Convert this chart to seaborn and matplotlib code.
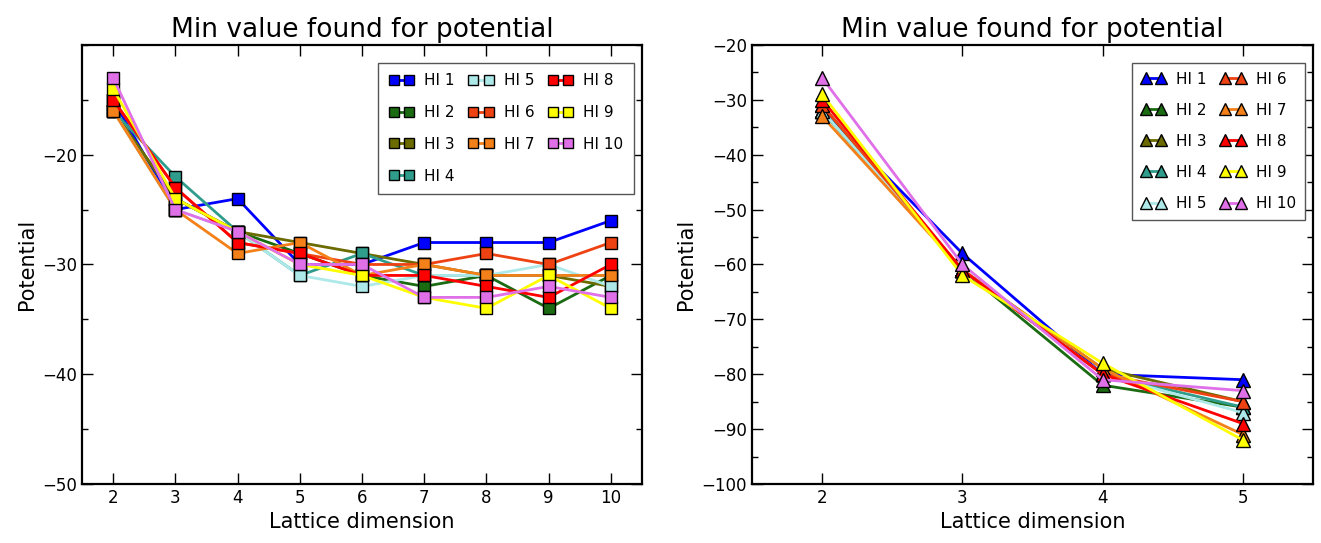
import pandas as pd
import matplotlib
matplotlib.use('Agg')
import matplotlib.pyplot as plt
import seaborn as sns
from matplotlib.ticker import MultipleLocator

# series names and colours
labels = ['HI 1', 'HI 2', 'HI 3', 'HI 4', 'HI 5', 'HI 6', 'HI 7', 'HI 8', 'HI 9', 'HI 10']
colors = ['#0000ff', '#1a6b12', '#6b6b00', '#2f9c8c', '#aee9e9',
          '#ee4212', '#f38018', '#ff0000', '#ffff00', '#e070e8']

# left panel: square markers, dims 2..10
dims_left = [2, 3, 4, 5, 6, 7, 8, 9, 10]
hi1_l = [-15, -25, -24, -30, -30, -28, -28, -28, -26]
hi2_l = [-16, -24, -27, -29, -31, -32, -31, -34, -31]
hi3_l = [-16, -24, -27, -28, -29, -30, -31, -31, -32]
hi4_l = [-16, -22, -27, -31, -29, -31, -31, -31, -31]
hi5_l = [-16, -25, -27, -31, -32, -31, -31, -30, -32]
hi6_l = [-15, -23, -28, -29, -30, -30, -29, -30, -28]
hi7_l = [-16, -25, -29, -28, -31, -30, -31, -31, -31]
hi8_l = [-15, -23, -28, -29, -31, -31, -32, -33, -30]
hi9_l = [-14, -24, -27, -30, -31, -33, -34, -31, -34]
hi10_l = [-13, -25, -27, -30, -30, -33, -33, -32, -33]

# right panel: triangle markers, dims 2..5
dims_right = [2, 3, 4, 5]
hi1_r = [-32, -58, -80, -81]
hi2_r = [-32, -61, -82, -86]
hi3_r = [-31, -61, -79, -85]
hi4_r = [-32, -61, -80, -86]
hi5_r = [-32, -61, -80, -87]
hi6_r = [-31, -61, -80, -85]
hi7_r = [-33, -61, -79, -91]
hi8_r = [-30, -61, -80, -89]
hi9_r = [-29, -62, -78, -92]
hi10_r = [-26, -60, -81, -83]

left_vals = [hi1_l, hi2_l, hi3_l, hi4_l, hi5_l, hi6_l, hi7_l, hi8_l, hi9_l, hi10_l]
right_vals = [hi1_r, hi2_r, hi3_r, hi4_r, hi5_r, hi6_r, hi7_r, hi8_r, hi9_r, hi10_r]


def to_long(dims, vals):
    rows = []
    for lab, v in zip(labels, vals):
        for d, p in zip(dims, v):
            rows.append({'dim': d, 'pot': p, 'HI': lab})
    return pd.DataFrame(rows)


df_left = to_long(dims_left, left_vals)
df_right = to_long(dims_right, right_vals)

sns.set_style('ticks', {'xtick.direction': 'in', 'ytick.direction': 'in',
                        'axes.edgecolor': 'black', 'text.color': 'black',
                        'axes.labelcolor': 'black', 'xtick.color': 'black',
                        'ytick.color': 'black'})
plt.rcParams['font.family'] = ['DejaVu Sans']

fig = plt.figure(figsize=(13.21, 5.43), dpi=100)
ax1 = fig.add_axes([0.0621, 0.1087, 0.4239, 0.8085])
ax2 = fig.add_axes([0.5693, 0.1087, 0.4247, 0.8085])

sns.lineplot(data=df_left, x='dim', y='pot', hue='HI', hue_order=labels, palette=colors,
             marker='s', markersize=9, markeredgecolor='black', markeredgewidth=1,
             linewidth=2, legend=False, errorbar=None, ax=ax1)
sns.lineplot(data=df_right, x='dim', y='pot', hue='HI', hue_order=labels, palette=colors,
             marker='^', markersize=10, markeredgecolor='black', markeredgewidth=1,
             linewidth=2, legend=False, errorbar=None, ax=ax2)

ax1.set_xlim(1.5, 10.5)
ax1.set_ylim(-50, -10)
ax1.set_xticks(dims_left)
ax1.set_yticks([-50, -40, -30, -20])
ax2.set_xlim(1.5, 5.5)
ax2.set_ylim(-100, -20)
ax2.set_xticks(dims_right)
ax2.set_yticks(range(-100, -19, 10))

for ax in (ax1, ax2):
    ax.yaxis.set_minor_locator(MultipleLocator(5))
    ax.tick_params(which='both', direction='in', top=True, right=True, labelsize=12,
                   width=1, colors='black')
    ax.tick_params(which='major', length=8)
    ax.tick_params(which='minor', length=4)
    ax.tick_params(axis='x', which='minor', bottom=False, top=False)
    for s in ax.spines.values():
        s.set_linewidth(1.6)
        s.set_color('black')
    ax.set_title('Min value found for potential', fontsize=19, color='black')
    ax.set_xlabel('Lattice dimension', fontsize=15, color='black')
    ax.set_ylabel('Potential', fontsize=15, color='black')

leg1 = ax1.legend(ax1.lines[:len(labels)], labels, ncol=3, numpoints=2, loc='upper right',
                  bbox_to_anchor=(0.986, 0.96), borderaxespad=0, fontsize=11,
                  fancybox=False, framealpha=1, edgecolor='#555555', markerscale=0.85,
                  handlelength=1.6, columnspacing=0.9, labelspacing=1.1, borderpad=0.7,
                  handletextpad=0.7)
leg2 = ax2.legend(ax2.lines[:len(labels)], labels, ncol=2, numpoints=2, loc='upper right',
                  bbox_to_anchor=(0.986, 0.96), borderaxespad=0, fontsize=11,
                  fancybox=False, framealpha=1, edgecolor='#555555', markerscale=0.85,
                  handlelength=1.6, columnspacing=0.9, labelspacing=1.05, borderpad=0.6,
                  handletextpad=0.7)
for leg in (leg1, leg2):
    for t in leg.get_texts():
        t.set_color('black')

fig.savefig('out.png', dpi=100)
